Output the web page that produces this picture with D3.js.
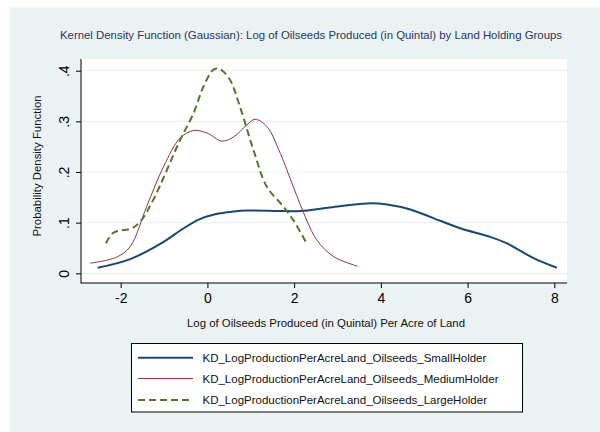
<!DOCTYPE html>
<html>
<head>
<meta charset="utf-8">
<script src="https://cdn.jsdelivr.net/npm/d3@7"></script>
<style>
  body { margin: 0; background: #fff; }
  svg { display: block; font-family: "Liberation Sans", Arial, sans-serif; }
</style>
</head>
<body>
<div id="chart"></div>
<script>
// values
var smallX = [-2.53, -1.78, -1.01, -0.60, -0.20, 0.20, 0.60, 0.91, 1.68, 2.14, 2.83, 3.68, 4.14, 4.68, 5.21, 5.83, 6.52, 6.91, 7.52, 8.06];
var smallY = [0.011, 0.028, 0.062, 0.086, 0.106, 0.117, 0.122, 0.124, 0.123, 0.123, 0.130, 0.138, 0.136, 0.126, 0.109, 0.089, 0.072, 0.059, 0.030, 0.011];

var mediumX = [-2.70, -2.09, -1.78, -1.40, -1.01, -0.63, -0.32, -0.01, 0.33, 0.60, 0.91, 1.10, 1.37, 1.68, 1.98, 2.29, 2.52, 2.91, 3.46];
var mediumY = [0.020, 0.032, 0.053, 0.132, 0.211, 0.267, 0.282, 0.277, 0.261, 0.269, 0.293, 0.304, 0.290, 0.237, 0.171, 0.105, 0.066, 0.033, 0.014];

var largeX = [-2.34, -2.17, -1.74, -1.55, -1.25, -0.63, -0.32, -0.09, 0.14, 0.29, 0.52, 0.75, 1.06, 1.37, 1.75, 1.98, 2.29];
var largeY = [0.059, 0.080, 0.089, 0.102, 0.145, 0.263, 0.316, 0.369, 0.402, 0.403, 0.382, 0.329, 0.244, 0.171, 0.132, 0.105, 0.059];

var xTicks = [-2, 0, 2, 4, 6, 8];
var yTicks = [0, 0.1, 0.2, 0.3, 0.4];

var seriesNames = ["KD_LogProductionPerAcreLand_Oilseeds_SmallHolder",
                   "KD_LogProductionPerAcreLand_Oilseeds_MediumHolder",
                   "KD_LogProductionPerAcreLand_Oilseeds_LargeHolder"];

var W = 600, H = 432;
var plot = {left: 81, right: 567, top: 59, bottom: 283};

var svg = d3.select("#chart").append("svg")
    .attr("width", W).attr("height", H);

// outer background
svg.append("rect").attr("x", 10).attr("y", 7.5).attr("width", W - 10).attr("height", H - 7.5)
    .attr("fill", "#eaf2f3");
svg.append("rect").attr("x", plot.left).attr("y", plot.top)
    .attr("width", plot.right - plot.left).attr("height", plot.bottom - plot.top)
    .attr("fill", "#ffffff");

var x = d3.scaleLinear().domain([-2, 8]).range([120.7, 554.3]);
var y = d3.scaleLinear().domain([0, 0.4]).range([273.3, 70.7]);

// grid lines
svg.append("g").selectAll("line")
    .data(yTicks)
  .enter().append("line")
    .attr("x1", plot.left).attr("x2", plot.right)
    .attr("y1", function(d) { return y(d); })
    .attr("y2", function(d) { return y(d); })
    .attr("stroke", "#eaf2f3").attr("stroke-width", 1.2);

// x axis
var xAxis = svg.append("g")
    .attr("transform", "translate(0," + plot.bottom + ")")
    .call(d3.axisBottom(x).tickValues(xTicks).tickSize(5).tickPadding(5)
      .tickFormat(function(d) { return String(d); }));
xAxis.select(".domain").remove();
xAxis.selectAll("text").style("font-size", "14px").attr("fill", "#000");
xAxis.selectAll("line").attr("stroke", "#000");

// y axis
var yAxis = svg.append("g")
    .attr("transform", "translate(" + plot.left + ",0)")
    .call(d3.axisLeft(y).tickValues(yTicks).tickSize(5).tickPadding(0)
      .tickFormat(function(d) { return d === 0 ? "0" : d3.format(".1f")(d).replace("0.", "."); }));
yAxis.select(".domain").remove();
yAxis.selectAll("line").attr("stroke", "#000");
yAxis.selectAll("text")
    .style("font-size", "14px").attr("fill", "#000")
    .attr("x", null).attr("dy", null)
    .attr("text-anchor", "middle")
    .attr("transform", "translate(-12,0) rotate(-90)")
    .attr("y", 0);

// axis lines
svg.append("line").attr("x1", plot.left).attr("x2", plot.left)
    .attr("y1", plot.top).attr("y2", plot.bottom + 0.5)
    .attr("stroke", "#000").attr("stroke-width", 1);
svg.append("line").attr("x1", plot.left).attr("x2", plot.right)
    .attr("y1", plot.bottom).attr("y2", plot.bottom)
    .attr("stroke", "#000").attr("stroke-width", 1);

// titles
svg.append("text")
    .attr("x", 311).attr("y", 38.5)
    .attr("text-anchor", "middle")
    .style("font-size", "11.4px")
    .attr("fill", "#2a3658")
    .text("Kernel Density Function (Gaussian): Log of Oilseeds Produced (in Quintal) by Land Holding Groups");

svg.append("text")
    .attr("x", 326).attr("y", 327)
    .attr("text-anchor", "middle")
    .style("font-size", "11.4px")
    .attr("fill", "#111")
    .text("Log of Oilseeds Produced (in Quintal) Per Acre of Land");

svg.append("text")
    .attr("transform", "translate(41,166) rotate(-90)")
    .attr("text-anchor", "middle")
    .style("font-size", "11.4px")
    .attr("fill", "#111")
    .text("Probability Density Function");

// curves
var line = d3.line()
    .x(function(d) { return x(d[0]); })
    .y(function(d) { return y(d[1]); })
    .curve(d3.curveCatmullRom.alpha(0.5));

var series = [
  {xs: smallX, ys: smallY, color: "#1a476f", width: 2, dash: null},
  {xs: mediumX, ys: mediumY, color: "#90353b", width: 1, dash: null},
  {xs: largeX, ys: largeY, color: "#55752f", width: 2, dash: "7,4"}
];

series.forEach(function(s) {
  svg.append("path")
    .datum(d3.zip(s.xs, s.ys))
    .attr("d", line)
    .attr("fill", "none")
    .attr("stroke", s.color)
    .attr("stroke-width", s.width)
    .attr("stroke-dasharray", s.dash);
});

// legend
var legend = svg.append("g");
legend.append("rect")
    .attr("x", 131.5).attr("y", 343.5).attr("width", 391).attr("height", 68.5)
    .attr("fill", "#fff").attr("stroke", "#000").attr("stroke-width", 1);

var rowY = [357.7, 378.5, 400];
series.forEach(function(s, i) {
  legend.append("line")
    .attr("x1", 138).attr("x2", 193)
    .attr("y1", rowY[i]).attr("y2", rowY[i])
    .attr("stroke", s.color)
    .attr("stroke-width", s.width)
    .attr("stroke-dasharray", s.dash);
  legend.append("text")
    .attr("x", 202.5).attr("y", rowY[i] + 4)
    .style("font-size", "11.5px")
    .attr("fill", "#111")
    .text(seriesNames[i]);
});
</script>
</body>
</html>
